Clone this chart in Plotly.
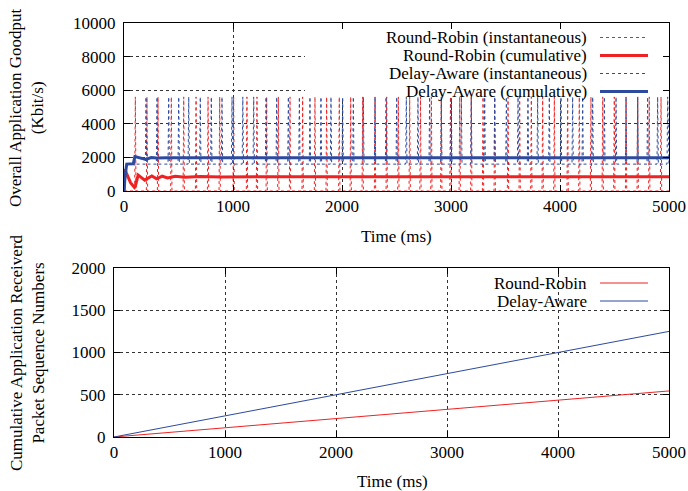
import plotly.graph_objects as go

W, H = 688, 491
FONT = "Liberation Serif, Times New Roman, serif"
RED = "#ee2222"
BLUE = "#2c4a9e"

# ---------------- data ----------------
# instantaneous goodput: spike times (ms), spike height and baseline (Kbit/s)
rr_spike_times = [104, 211, 312, 434, 548, 661, 771, 878, 1006, 1128, 1220, 1309, 1416, 1523,
                  1639, 1752, 1859, 1975, 2080, 2190, 2303, 2410, 2517, 2621, 2720, 2820, 2911,
                  2995, 3080, 3186, 3294, 3401, 3523, 3630, 3737, 3841, 3948, 4070, 4177, 4284,
                  4392, 4498, 4606, 4713, 4819, 4927]
da_spike_times = [202, 303, 410, 502, 594, 700, 801, 899, 991, 1090, 1190, 1303, 1401, 1508,
                  1609, 1706, 1807, 1899, 2006, 2104, 2196, 2303, 2404, 2502, 2590, 2697, 2804,
                  2911, 3003, 3095, 3186, 3309, 3401, 3508, 3615, 3706, 3795, 3902, 4009, 4116,
                  4208, 4300, 4407, 4514, 4606, 4713, 4804, 4896, 4988]
spike_peak = 5600
rr_base = 0
da_base = 1600

# cumulative goodput
rr_cum_t = [0, 10, 20, 60, 100, 130, 190, 255, 300, 350, 400, 470, 560, 700, 900, 1200, 2000, 3000, 4000, 5000]
rr_cum_v = [0, 1300, 1100, 500, 180, 950, 650, 900, 720, 880, 780, 870, 820, 860, 840, 850, 850, 850, 850, 850]
da_cum_t = [0, 10, 25, 85, 100, 150, 200, 250, 300, 400, 600, 1000, 2000, 3000, 4000, 5000]
da_cum_v = [0, 900, 1600, 1620, 2050, 1950, 1880, 1990, 1960, 1980, 1970, 1975, 1975, 1975, 1975, 1975]

# cumulative received packet sequence numbers
seq_t = [0, 1000, 2000, 3000, 4000, 5000]
rr_seq = [0, 108, 216, 325, 435, 545]
da_seq = [0, 250, 500, 750, 1000, 1250]

x_ticks = [0, 1000, 2000, 3000, 4000, 5000]
top_y_ticks = [0, 2000, 4000, 6000, 8000, 10000]
bot_y_ticks = [0, 500, 1000, 1500, 2000]


def spikes(times, base, peak, start=None, end=5000):
    xs, ys = [], []
    if start is not None:
        xs.append(start); ys.append(base)
    for t in times:
        xs += [t - 6, t, t + 6]
        ys += [base, peak, base]
    xs.append(end); ys.append(base)
    return xs, ys


fig = go.Figure()
rx, ry = spikes(rr_spike_times, rr_base, spike_peak, start=0)
dx, dy = spikes(da_spike_times, da_base, spike_peak, start=60)

fig.add_trace(go.Scatter(x=rx, y=ry, mode="lines", line=dict(color=RED, width=1, dash="dot"),
                         xaxis="x", yaxis="y", showlegend=False))
fig.add_trace(go.Scatter(x=dx, y=dy, mode="lines", line=dict(color=BLUE, width=1, dash="dot"),
                         xaxis="x", yaxis="y", showlegend=False))
fig.add_trace(go.Scatter(x=rr_cum_t, y=rr_cum_v, mode="lines", line=dict(color=RED, width=3),
                         xaxis="x", yaxis="y", showlegend=False))
fig.add_trace(go.Scatter(x=da_cum_t, y=da_cum_v, mode="lines", line=dict(color=BLUE, width=3),
                         xaxis="x", yaxis="y", showlegend=False))
fig.add_trace(go.Scatter(x=seq_t, y=rr_seq, mode="lines", line=dict(color=RED, width=1),
                         xaxis="x2", yaxis="y2", showlegend=False))
fig.add_trace(go.Scatter(x=seq_t, y=da_seq, mode="lines", line=dict(color=BLUE, width=1),
                         xaxis="x2", yaxis="y2", showlegend=False))


def px(x):
    return x / W


def py(y):
    return 1 - y / H


axis_common = dict(showline=True, linecolor="black", linewidth=1, mirror="allticks",
                   ticks="inside", ticklen=6, tickcolor="black", showgrid=True,
                   gridcolor="#333333", griddash="dot", gridwidth=1, zeroline=False,
                   tickfont=dict(family=FONT, size=17, color="black"))

fig.update_layout(
    width=W, height=H, margin=dict(l=0, r=0, t=0, b=0, autoexpand=False),
    paper_bgcolor="white", plot_bgcolor="white", showlegend=False,
    xaxis=dict(domain=[px(124), px(669)], range=[0, 5000], tickvals=x_ticks,
               ticktext=[str(v) for v in x_ticks], anchor="y", **axis_common),
    yaxis=dict(domain=[py(191), py(23)], range=[0, 10000], tickvals=top_y_ticks,
               ticktext=[str(v) for v in top_y_ticks], anchor="x",
               ticklabelstandoff=4, **axis_common),
    xaxis2=dict(domain=[px(114), px(669)], range=[0, 5000], tickvals=x_ticks,
                ticktext=[str(v) for v in x_ticks], anchor="y2", **axis_common),
    yaxis2=dict(domain=[py(437), py(268)], range=[0, 2000], tickvals=bot_y_ticks,
                ticktext=[str(v) for v in bot_y_ticks], anchor="x2",
                ticklabelstandoff=4, **axis_common),
)

# white legend box for the top plot (covers gridlines, stays under the data)
fig.add_shape(type="rect", xref="x", yref="y", x0=1660, x1=4995, y0=5500, y1=9980,
              fillcolor="white", line=dict(width=0), layer="between")

ann = []
top_entries = [("Round-Robin (instantaneous)", RED, 1, "dot", 37.5),
               ("Round-Robin (cumulative)", RED, 3, "solid", 55.5),
               ("Delay-Aware (instantaneous)", BLUE, 1, "dot", 73.5),
               ("Delay-Aware (cumulative)", BLUE, 3, "solid", 91.5)]
bot_entries = [("Round-Robin", RED, 1, "solid", 283),
               ("Delay-Aware", BLUE, 1, "solid", 301)]
for name, col, w, dash, yy in top_entries + bot_entries:
    ann.append(dict(text=name, xref="paper", yref="paper", x=px(589), y=py(yy), xanchor="right",
                    yanchor="middle", showarrow=False, font=dict(family=FONT, size=17, color="black")))
    fig.add_shape(type="line", xref="paper", yref="paper", x0=px(600), x1=px(648), y0=py(yy), y1=py(yy),
                  line=dict(color=col, width=w, dash=dash))

ann.append(dict(text="Time (ms)", xref="paper", yref="paper", x=px(396), y=py(236), xanchor="center",
                yanchor="middle", showarrow=False, font=dict(family=FONT, size=17, color="black")))
ann.append(dict(text="Time (ms)", xref="paper", yref="paper", x=px(392), y=py(481), xanchor="center",
                yanchor="middle", showarrow=False, font=dict(family=FONT, size=17, color="black")))
ann.append(dict(text="Overall Application Goodput<br>(Kbit/s)", xref="paper", yref="paper",
                x=px(27), y=py(108), xanchor="center", yanchor="middle", textangle=-90, showarrow=False,
                font=dict(family=FONT, size=17, color="black")))
ann.append(dict(text="Cumulative Application Receiverd<br>Packet Sequence Numbers", xref="paper",
                yref="paper", x=px(27), y=py(353), xanchor="center", yanchor="middle", textangle=-90,
                showarrow=False, font=dict(family=FONT, size=17, color="black")))
fig.update_layout(annotations=ann)

fig.write_html("out.html")
